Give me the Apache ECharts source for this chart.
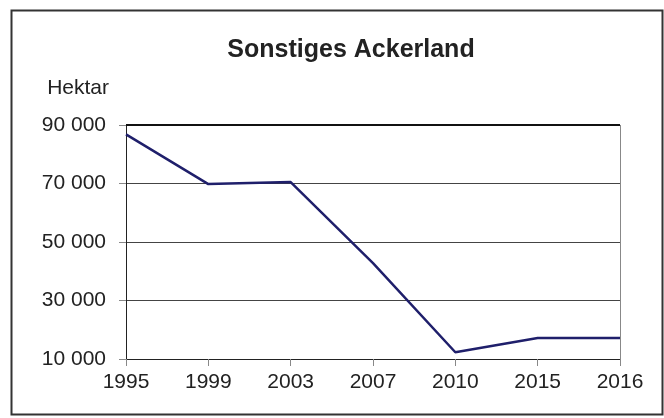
<!DOCTYPE html>
<html>
<head>
<meta charset="utf-8">
<script src="https://cdn.jsdelivr.net/npm/echarts@6/dist/echarts.min.js"></script>
<style>
  html, body { margin: 0; padding: 0; background: #fff; }
  #chart { width: 664px; height: 418px; }
</style>
</head>
<body>
<div id="chart"></div>
<script>
const titleText = 'Sonstiges Ackerland';
const unitName = 'Hektar';
const years = ['1995', '1999', '2003', '2007', '2010', '2015', '2016'];
const hectares = [86800, 69800, 70500, 42800, 12300, 17200, 17200];
const yMin = 10000, yMax = 90000, yStep = 20000;

const chart = echarts.init(document.getElementById('chart'), null, { renderer: 'canvas' });
const font = '"Liberation Sans", Arial, sans-serif';

chart.setOption({
  animation: false,
  backgroundColor: '#ffffff',
  title: {
    text: titleText,
    left: 346, top: 33, textAlign: 'center',
    textStyle: { fontFamily: font, fontSize: 25, fontWeight: 'bold', color: '#222' }
  },
  graphic: [{
    type: 'rect', left: 9, top: 8, z: -1,
    shape: { width: 651, height: 404 },
    style: { fill: 'none', stroke: '#333', lineWidth: 2 }
  }],
  grid: { left: 126, right: 44, top: 125, bottom: 59 },
  xAxis: {
    type: 'category', data: years, boundaryGap: false,
    axisLine: { lineStyle: { color: '#222', width: 1 } },
    axisTick: { show: true, length: 7, lineStyle: { color: '#888' } },
    axisLabel: { margin: 13, fontFamily: font, fontSize: 21, color: '#222' },
    splitLine: { show: false }
  },
  yAxis: {
    type: 'value', min: yMin, max: yMax, interval: yStep,
    name: unitName, nameLocation: 'end', nameGap: 26,
    nameTextStyle: { fontFamily: font, fontSize: 21, color: '#222', align: 'right', padding: [0, 17, 0, 0] },
    axisLine: { show: true, lineStyle: { color: '#222', width: 1 } },
    axisTick: { show: true, length: 7, lineStyle: { color: '#888' } },
    axisLabel: {
      margin: 20, fontFamily: font, fontSize: 21, color: '#222',
      formatter: v => String(v).replace(/\B(?=(\d{3})+(?!\d))/g, ' ')
    },
    splitLine: { show: true, lineStyle: { color: '#444', width: 1 } }
  },
  series: [{
    type: 'line', data: hectares, symbol: 'none',
    lineStyle: { color: '#1f1f6b', width: 2.5 },
    markLine: {
      silent: true, symbol: 'none', label: { show: false },
      data: [
        [{ xAxis: 0, yAxis: yMax }, { xAxis: years.length - 1, yAxis: yMax }]
      ],
      lineStyle: { color: '#111', width: 2, type: 'solid' }
    }
  }, {
    type: 'line', data: [], symbol: 'none',
    markLine: {
      silent: true, symbol: 'none', label: { show: false },
      data: [
        [{ xAxis: years.length - 1, yAxis: yMin }, { xAxis: years.length - 1, yAxis: yMax }]
      ],
      lineStyle: { color: '#888', width: 1, type: 'solid' }
    }
  }]
});
</script>
</body>
</html>
